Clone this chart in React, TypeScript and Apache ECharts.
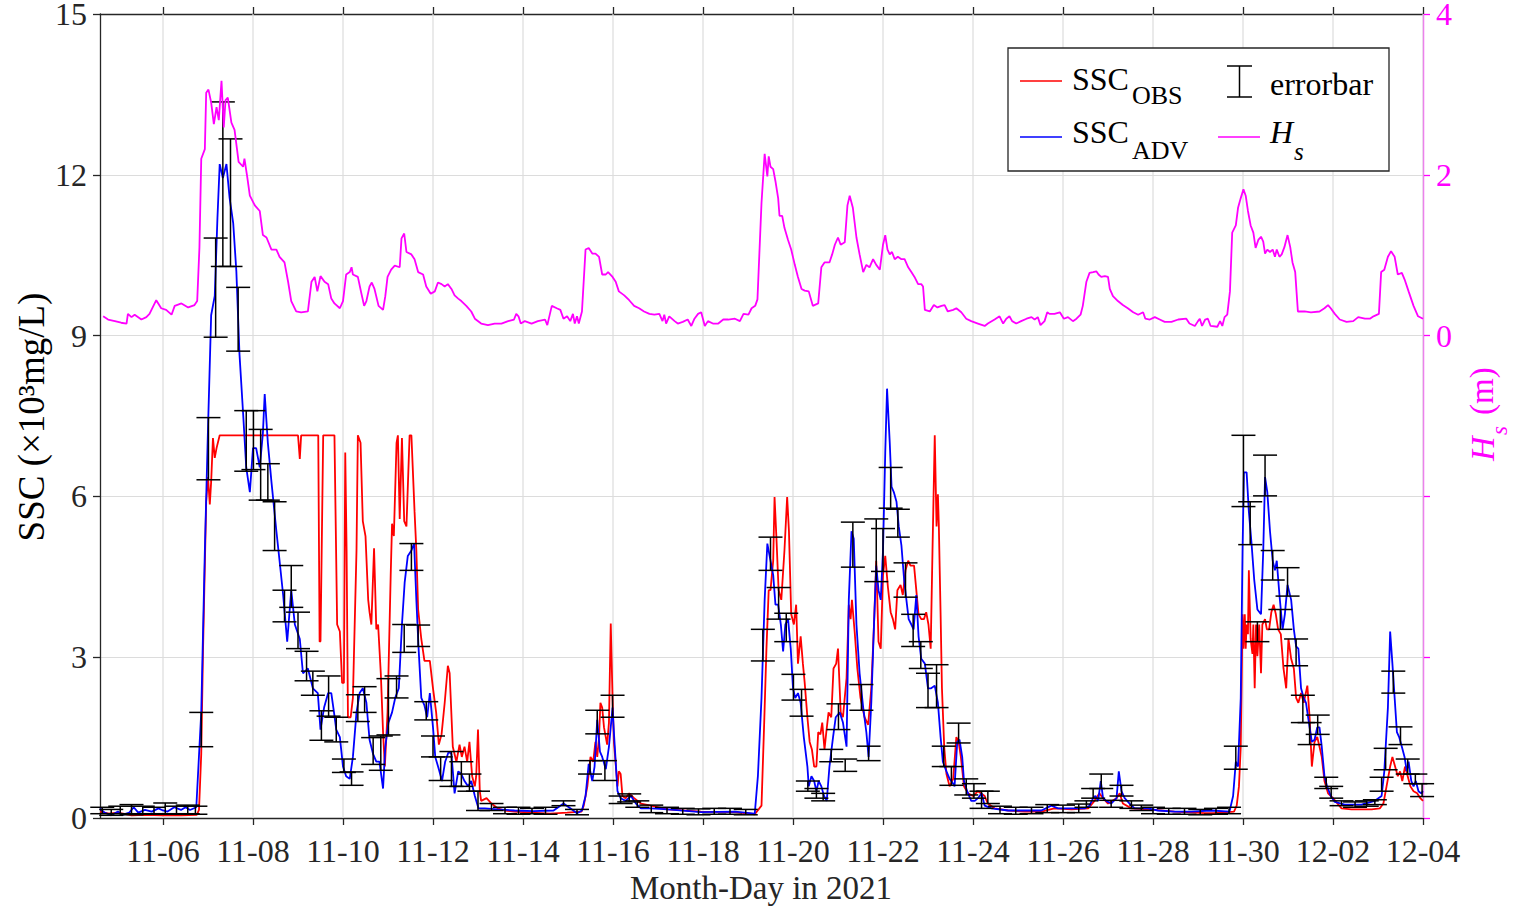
import React, { useEffect, useRef } from "react";
import * as echarts from "echarts";

// ---- data (day of November 2021, value) ----
const X_TICKS = [6, 8, 10, 12, 14, 16, 18, 20, 22, 24, 26, 28, 30, 32, 34];

const SSC_OBS: number[][] = [
  [4.6,0.12],[4.8,0.08],[5.0,0.1],[5.3,0.05],[5.6,0.06],[6.0,0.05],[6.4,0.05],[6.75,0.06],[6.8,0.15],[6.85,1.2],[6.89,3.16],[6.96,5.9],[7.0,6.36],[7.04,5.85],[7.07,6.27],[7.11,7.09],[7.15,6.72],[7.19,6.9],[7.26,7.14],[9.0,7.14],[9.04,6.7],[9.07,7.14],[9.45,7.14],[9.48,3.29],[9.5,3.3],[9.56,7.14],[9.81,7.14],[9.87,3.61],[9.93,3.48],[9.98,2.52],[10.02,2.52],[10.05,6.82],[10.08,4.99],[10.11,1.88],[10.17,1.88],[10.22,2.24],[10.3,4.99],[10.33,7.14],[10.39,7.0],[10.44,5.54],[10.5,5.26],[10.56,4.07],[10.59,3.84],[10.63,3.61],[10.69,5.03],[10.74,3.52],[10.78,3.61],[10.84,2.7],[10.89,1.6],[10.93,0.96],[10.99,1.97],[11.06,4.53],[11.09,5.49],[11.13,5.26],[11.19,7.0],[11.22,7.14],[11.26,5.58],[11.31,7.09],[11.36,5.54],[11.41,5.44],[11.48,7.14],[11.52,7.14],[11.59,5.72],[11.63,4.99],[11.67,3.89],[11.74,3.34],[11.81,2.93],[11.93,2.93],[12.0,2.42],[12.07,1.97],[12.13,1.37],[12.19,1.56],[12.26,2.15],[12.33,2.84],[12.37,2.7],[12.44,1.33],[12.52,1.05],[12.59,1.37],[12.64,1.14],[12.7,1.33],[12.76,1.05],[12.81,1.42],[12.87,0.78],[12.93,0.59],[12.96,0.78],[13.0,1.65],[13.04,0.5],[13.07,0.32],[13.19,0.37],[13.3,0.27],[13.44,0.18],[13.59,0.14],[13.81,0.12],[14.2,0.1],[14.6,0.08],[14.98,0.1],[15.3,0.12],[15.35,0.23],[15.43,0.59],[15.5,1.14],[15.56,1.05],[15.61,1.42],[15.65,1.14],[15.69,1.51],[15.72,2.15],[15.76,2.06],[15.8,1.69],[15.87,1.37],[15.91,1.78],[15.95,3.63],[15.99,2.24],[16.02,1.42],[16.1,0.59],[16.13,0.87],[16.17,0.82],[16.21,0.41],[16.28,0.37],[16.36,0.46],[16.47,0.37],[16.62,0.27],[16.84,0.23],[17.22,0.16],[17.96,0.12],[18.71,0.11],[19.15,0.07],[19.3,0.23],[19.36,1.78],[19.41,3.16],[19.46,4.25],[19.5,4.25],[19.56,4.8],[19.59,5.99],[19.63,5.26],[19.68,4.25],[19.74,4.07],[19.81,4.99],[19.87,5.99],[19.91,5.35],[19.96,3.8],[20.02,3.61],[20.07,3.98],[20.11,2.88],[20.17,3.39],[20.22,2.88],[20.26,2.52],[20.32,1.88],[20.37,1.42],[20.42,1.28],[20.47,0.96],[20.52,0.96],[20.56,1.6],[20.61,1.56],[20.65,1.78],[20.7,1.28],[20.74,1.6],[20.79,1.97],[20.85,1.88],[20.9,2.79],[20.96,2.88],[21.0,3.16],[21.06,1.97],[21.11,1.88],[21.19,2.61],[21.24,3.98],[21.28,3.71],[21.31,4.07],[21.37,3.48],[21.43,2.79],[21.5,2.24],[21.59,1.88],[21.67,1.74],[21.74,2.42],[21.8,3.61],[21.85,4.8],[21.9,3.29],[21.95,3.16],[22.0,4.53],[22.05,4.89],[22.11,4.3],[22.17,3.84],[22.22,3.71],[22.27,3.52],[22.32,4.25],[22.39,4.35],[22.44,4.16],[22.5,4.62],[22.56,4.8],[22.61,4.71],[22.69,4.71],[22.74,4.25],[22.79,3.8],[22.85,3.71],[22.91,3.71],[22.96,3.84],[23.01,3.61],[23.06,3.16],[23.1,4.99],[23.15,7.14],[23.19,5.44],[23.22,6.04],[23.24,5.49],[23.28,3.8],[23.31,2.42],[23.36,1.33],[23.41,0.82],[23.48,0.59],[23.56,0.73],[23.63,1.51],[23.68,1.42],[23.73,1.14],[23.8,0.59],[23.89,0.46],[24.0,0.41],[24.11,0.5],[24.26,0.41],[24.33,0.27],[24.48,0.18],[24.78,0.14],[25.15,0.12],[25.52,0.12],[25.81,0.18],[26.19,0.16],[26.56,0.18],[26.7,0.32],[26.81,0.46],[26.89,0.37],[27.0,0.27],[27.19,0.37],[27.26,0.46],[27.33,0.27],[27.52,0.18],[27.89,0.16],[28.48,0.12],[29.15,0.09],[29.35,0.09],[29.8,0.12],[29.86,0.23],[29.91,0.59],[29.95,1.33],[29.99,3.8],[30.01,3.16],[30.04,3.8],[30.06,3.16],[30.08,3.61],[30.11,3.43],[30.13,4.62],[30.17,3.34],[30.21,3.06],[30.23,3.61],[30.26,2.42],[30.29,3.61],[30.32,3.02],[30.36,3.61],[30.4,2.7],[30.43,3.61],[30.49,3.71],[30.53,3.52],[30.58,3.52],[30.63,3.84],[30.68,3.98],[30.73,3.8],[30.78,3.52],[30.84,3.43],[30.9,2.79],[30.96,2.42],[31.01,3.34],[31.07,2.97],[31.13,2.79],[31.18,2.24],[31.23,2.15],[31.29,2.33],[31.35,2.15],[31.43,2.47],[31.48,1.88],[31.53,0.96],[31.59,1.42],[31.65,1.51],[31.7,1.33],[31.75,1.14],[31.81,0.69],[31.89,0.46],[32.0,0.37],[32.19,0.18],[32.41,0.16],[32.63,0.16],[32.86,0.16],[33.04,0.18],[33.12,0.27],[33.19,0.59],[33.27,0.96],[33.32,1.14],[33.38,0.96],[33.44,0.78],[33.49,0.87],[33.54,0.69],[33.6,0.96],[33.66,0.78],[33.72,0.59],[33.79,0.5],[33.87,0.46],[33.94,0.37],[34.0,0.32]
];

const SSC_ADV: number[][] = [
  [4.6,0.18],[4.7,0.1],[4.85,0.05],[5.0,0.12],[5.1,0.06],[5.25,0.1],[5.35,0.2],[5.45,0.1],[5.6,0.15],[5.75,0.12],[5.9,0.18],[6.0,0.14],[6.1,0.12],[6.25,0.2],[6.4,0.15],[6.5,0.2],[6.6,0.15],[6.74,0.2],[6.85,1.97],[6.93,4.99],[7.0,7.27],[7.07,9.38],[7.15,9.74],[7.21,11.2],[7.26,12.2],[7.33,11.94],[7.41,12.2],[7.48,11.57],[7.56,11.1],[7.63,10.2],[7.7,8.65],[7.78,7.55],[7.85,6.54],[7.93,6.08],[8.0,6.9],[8.07,6.9],[8.15,6.54],[8.22,7.18],[8.26,7.91],[8.33,7.0],[8.41,6.27],[8.52,5.35],[8.59,4.8],[8.67,4.16],[8.76,3.29],[8.85,4.25],[8.93,3.61],[9.04,3.34],[9.11,2.7],[9.22,2.79],[9.33,2.42],[9.44,2.33],[9.5,1.65],[9.58,2.06],[9.67,2.33],[9.74,2.33],[9.8,1.97],[9.85,1.65],[9.93,1.51],[10.0,0.96],[10.07,0.78],[10.15,0.73],[10.22,1.14],[10.3,1.97],[10.37,2.33],[10.44,2.42],[10.52,2.15],[10.59,1.46],[10.67,1.19],[10.74,1.05],[10.81,1.05],[10.89,0.55],[10.94,1.33],[11.01,1.78],[11.09,1.97],[11.16,2.24],[11.24,2.42],[11.31,3.61],[11.37,4.39],[11.44,4.89],[11.52,4.99],[11.58,5.12],[11.63,4.07],[11.68,3.16],[11.74,2.24],[11.81,2.1],[11.87,1.88],[11.93,2.33],[12.0,1.69],[12.05,1.14],[12.13,0.91],[12.2,0.69],[12.27,1.05],[12.35,1.24],[12.41,1.19],[12.48,0.46],[12.56,0.87],[12.63,0.82],[12.7,0.69],[12.78,0.59],[12.85,0.69],[12.93,0.41],[13.01,0.18],[13.15,0.18],[13.44,0.16],[13.81,0.14],[14.23,0.13],[14.68,0.14],[14.83,0.23],[14.9,0.27],[15.05,0.18],[15.2,0.09],[15.31,0.14],[15.39,0.41],[15.46,1.01],[15.54,0.69],[15.59,0.96],[15.65,1.83],[15.71,1.24],[15.76,1.14],[15.84,0.91],[15.91,1.33],[15.99,2.06],[16.02,1.6],[16.1,0.5],[16.17,0.37],[16.28,0.32],[16.4,0.41],[16.51,0.27],[16.62,0.18],[16.84,0.18],[17.22,0.16],[17.96,0.11],[18.71,0.12],[19.15,0.08],[19.22,0.78],[19.3,2.24],[19.37,4.07],[19.43,5.12],[19.48,4.89],[19.56,4.53],[19.61,3.98],[19.67,3.98],[19.73,3.61],[19.78,3.11],[19.83,3.61],[19.89,3.71],[19.95,3.16],[20.0,2.42],[20.05,2.24],[20.11,2.33],[20.17,2.15],[20.24,1.51],[20.32,0.96],[20.35,0.59],[20.41,0.78],[20.47,0.69],[20.52,0.5],[20.57,0.69],[20.63,0.59],[20.69,0.41],[20.75,0.32],[20.81,0.96],[20.89,1.51],[20.95,1.88],[21.04,1.97],[21.11,1.78],[21.19,1.33],[21.24,4.07],[21.3,5.35],[21.35,5.21],[21.41,3.61],[21.48,2.7],[21.56,2.06],[21.63,1.6],[21.68,1.14],[21.74,2.15],[21.8,3.61],[21.85,4.71],[21.9,4.25],[21.95,4.07],[22.0,4.99],[22.05,6.82],[22.09,8.01],[22.15,7.0],[22.19,6.18],[22.24,6.08],[22.3,5.9],[22.35,5.44],[22.41,5.08],[22.47,4.44],[22.52,4.07],[22.57,3.71],[22.63,3.61],[22.68,3.52],[22.74,4.16],[22.79,3.39],[22.85,2.97],[22.93,2.88],[23.0,2.42],[23.07,2.42],[23.15,2.47],[23.22,2.15],[23.28,1.51],[23.33,1.05],[23.41,0.87],[23.48,0.73],[23.56,0.64],[23.59,0.59],[23.65,1.42],[23.7,1.46],[23.76,1.14],[23.8,0.69],[23.87,0.5],[23.96,0.32],[24.04,0.32],[24.11,0.37],[24.19,0.46],[24.26,0.23],[24.41,0.18],[24.78,0.14],[25.15,0.14],[25.52,0.14],[25.74,0.23],[25.89,0.18],[26.19,0.18],[26.48,0.18],[26.59,0.23],[26.67,0.37],[26.72,0.41],[26.78,0.32],[26.84,0.69],[26.89,0.37],[26.96,0.32],[27.07,0.27],[27.19,0.37],[27.24,0.87],[27.3,0.5],[27.37,0.37],[27.48,0.27],[27.59,0.18],[27.89,0.18],[28.11,0.14],[28.48,0.12],[28.85,0.12],[29.3,0.14],[29.7,0.12],[29.78,0.41],[29.84,1.05],[29.89,0.96],[29.95,2.24],[29.99,4.99],[30.02,6.45],[30.08,6.45],[30.13,5.72],[30.19,5.12],[30.25,4.44],[30.32,3.89],[30.4,3.8],[30.45,4.99],[30.49,6.36],[30.54,6.08],[30.6,5.35],[30.66,4.8],[30.71,4.62],[30.75,4.8],[30.81,4.16],[30.88,3.52],[30.93,3.8],[30.99,4.35],[31.07,4.07],[31.13,3.52],[31.18,3.2],[31.23,3.16],[31.29,2.42],[31.35,2.24],[31.4,2.15],[31.48,1.69],[31.53,1.42],[31.59,1.46],[31.65,1.69],[31.7,1.69],[31.75,1.33],[31.81,0.78],[31.87,0.59],[31.95,0.41],[32.04,0.3],[32.26,0.25],[32.63,0.25],[32.93,0.32],[33.08,0.41],[33.14,0.87],[33.22,2.06],[33.27,3.48],[33.32,2.88],[33.37,2.24],[33.42,1.6],[33.47,1.51],[33.53,1.33],[33.59,1.14],[33.64,0.87],[33.68,1.05],[33.74,0.69],[33.79,0.59],[33.84,0.69],[33.9,0.5],[33.96,0.46],[34.0,0.5]
];

const HS: number[][] = [
  [4.67,0.24],[4.78,0.2],[4.93,0.18],[5.07,0.16],[5.19,0.15],[5.22,0.27],[5.3,0.23],[5.37,0.26],[5.52,0.2],[5.63,0.23],[5.7,0.27],[5.85,0.44],[5.96,0.34],[6.07,0.32],[6.19,0.26],[6.26,0.37],[6.41,0.4],[6.56,0.35],[6.7,0.38],[6.76,0.43],[6.81,1.1],[6.85,2.2],[6.93,2.32],[6.96,3.02],[7.01,3.06],[7.07,2.9],[7.13,2.63],[7.19,2.84],[7.24,2.68],[7.3,3.17],[7.35,2.59],[7.39,2.93],[7.44,2.96],[7.52,2.65],[7.59,2.56],[7.68,2.16],[7.78,2.1],[7.81,2.2],[7.87,1.98],[7.93,1.74],[8.04,1.62],[8.15,1.55],[8.22,1.25],[8.3,1.22],[8.41,1.07],[8.52,1.07],[8.59,0.98],[8.7,0.91],[8.78,0.67],[8.85,0.43],[8.96,0.3],[9.07,0.29],[9.22,0.3],[9.3,0.67],[9.37,0.73],[9.43,0.55],[9.5,0.74],[9.59,0.67],[9.67,0.64],[9.74,0.46],[9.81,0.4],[9.93,0.34],[10.0,0.43],[10.07,0.76],[10.15,0.79],[10.19,0.85],[10.22,0.76],[10.33,0.73],[10.41,0.52],[10.47,0.37],[10.52,0.43],[10.59,0.61],[10.64,0.66],[10.7,0.58],[10.79,0.37],[10.89,0.32],[10.94,0.49],[10.99,0.73],[11.07,0.82],[11.15,0.87],[11.26,0.85],[11.3,1.21],[11.36,1.27],[11.41,1.04],[11.52,1.01],[11.59,0.95],[11.67,0.79],[11.78,0.76],[11.85,0.61],[11.95,0.52],[12.04,0.55],[12.11,0.66],[12.19,0.64],[12.26,0.61],[12.33,0.64],[12.41,0.58],[12.48,0.5],[12.56,0.46],[12.63,0.43],[12.74,0.37],[12.85,0.3],[12.93,0.21],[13.07,0.15],[13.22,0.13],[13.37,0.15],[13.52,0.15],[13.67,0.18],[13.8,0.2],[13.85,0.27],[13.9,0.24],[13.95,0.15],[14.04,0.18],[14.19,0.15],[14.33,0.18],[14.49,0.2],[14.54,0.13],[14.64,0.37],[14.75,0.34],[14.83,0.32],[14.9,0.21],[14.98,0.24],[15.05,0.18],[15.11,0.27],[15.15,0.15],[15.2,0.24],[15.24,0.15],[15.31,0.3],[15.39,1.07],[15.46,1.09],[15.54,1.02],[15.61,1.02],[15.69,0.98],[15.76,0.76],[15.84,0.76],[15.89,0.79],[15.99,0.73],[16.06,0.67],[16.13,0.55],[16.25,0.5],[16.36,0.44],[16.47,0.37],[16.58,0.34],[16.69,0.3],[16.81,0.27],[16.92,0.26],[17.03,0.27],[17.1,0.18],[17.14,0.26],[17.18,0.15],[17.25,0.24],[17.37,0.18],[17.44,0.15],[17.55,0.17],[17.66,0.2],[17.74,0.12],[17.81,0.21],[17.89,0.27],[17.96,0.29],[18.04,0.12],[18.11,0.18],[18.22,0.15],[18.34,0.15],[18.45,0.2],[18.56,0.2],[18.71,0.21],[18.82,0.18],[18.9,0.27],[19.01,0.26],[19.08,0.34],[19.16,0.37],[19.21,0.45],[19.24,0.85],[19.3,1.65],[19.37,2.26],[19.43,1.98],[19.46,2.23],[19.5,2.1],[19.56,2.07],[19.61,1.92],[19.67,1.71],[19.7,1.49],[19.76,1.49],[19.81,1.34],[19.89,1.19],[19.96,1.07],[20.04,0.88],[20.11,0.73],[20.19,0.58],[20.26,0.56],[20.35,0.55],[20.44,0.37],[20.56,0.4],[20.63,0.85],[20.7,0.91],[20.81,0.91],[20.87,1.01],[20.93,1.13],[21.0,1.22],[21.06,1.13],[21.15,1.16],[21.21,1.62],[21.26,1.74],[21.33,1.59],[21.41,1.22],[21.48,1.01],[21.56,0.79],[21.63,0.88],[21.7,0.85],[21.78,0.95],[21.85,0.88],[21.93,0.82],[22.0,1.13],[22.05,1.25],[22.1,1.07],[22.15,1.01],[22.2,1.04],[22.26,0.95],[22.33,0.98],[22.41,0.95],[22.48,0.95],[22.56,0.85],[22.63,0.79],[22.7,0.73],[22.78,0.64],[22.85,0.64],[22.89,0.61],[22.93,0.32],[23.04,0.3],[23.13,0.38],[23.21,0.35],[23.3,0.37],[23.37,0.38],[23.44,0.3],[23.56,0.32],[23.63,0.34],[23.74,0.29],[23.85,0.21],[23.96,0.18],[24.11,0.15],[24.26,0.12],[24.33,0.15],[24.48,0.2],[24.59,0.24],[24.67,0.15],[24.74,0.21],[24.81,0.24],[24.87,0.18],[24.96,0.15],[25.07,0.18],[25.19,0.21],[25.3,0.23],[25.37,0.2],[25.44,0.23],[25.5,0.13],[25.59,0.18],[25.65,0.29],[25.7,0.27],[25.81,0.27],[25.93,0.29],[26.02,0.21],[26.11,0.23],[26.22,0.18],[26.3,0.21],[26.39,0.26],[26.44,0.37],[26.52,0.67],[26.59,0.78],[26.67,0.79],[26.74,0.8],[26.79,0.76],[26.85,0.73],[26.93,0.74],[27.0,0.73],[27.04,0.58],[27.11,0.49],[27.22,0.43],[27.33,0.38],[27.44,0.34],[27.56,0.29],[27.67,0.26],[27.78,0.29],[27.83,0.21],[27.93,0.2],[28.04,0.23],[28.15,0.2],[28.26,0.17],[28.41,0.17],[28.56,0.2],[28.74,0.21],[28.81,0.15],[28.93,0.12],[29.0,0.18],[29.04,0.21],[29.09,0.12],[29.16,0.2],[29.22,0.21],[29.28,0.12],[29.43,0.11],[29.49,0.18],[29.54,0.12],[29.59,0.23],[29.65,0.26],[29.71,0.55],[29.76,1.28],[29.84,1.37],[29.89,1.59],[29.95,1.71],[30.01,1.82],[30.06,1.74],[30.11,1.55],[30.17,1.37],[30.23,1.28],[30.28,1.09],[30.34,1.19],[30.4,1.23],[30.45,1.17],[30.49,1.02],[30.54,1.07],[30.6,1.04],[30.66,1.07],[30.71,0.98],[30.75,1.07],[30.81,0.98],[30.86,1.01],[30.92,1.1],[30.99,1.25],[31.05,1.1],[31.1,0.91],[31.16,0.79],[31.22,0.3],[31.37,0.3],[31.51,0.29],[31.7,0.3],[31.81,0.34],[31.89,0.38],[31.95,0.34],[32.04,0.27],[32.15,0.2],[32.3,0.17],[32.45,0.18],[32.56,0.23],[32.71,0.21],[32.82,0.21],[32.9,0.24],[33.02,0.27],[33.07,0.79],[33.14,0.82],[33.22,0.98],[33.29,1.05],[33.37,0.98],[33.44,0.76],[33.53,0.78],[33.59,0.7],[33.68,0.55],[33.79,0.37],[33.89,0.24],[34.0,0.21]
];

// errorbars: [day, low, high]
const ERRORBARS: number[][] = [
  [4.65,0.08,0.2],[4.85,0.05,0.16],[5.05,0.08,0.22],[5.3,0.06,0.25],[5.55,0.08,0.22],[5.8,0.07,0.2],[6.05,0.08,0.28],[6.3,0.07,0.22],[6.55,0.08,0.24],[6.72,0.07,0.22],
  [6.85,1.33,1.97],[7.01,6.31,7.47],[7.17,8.97,10.82],[7.33,10.29,13.36],[7.5,10.29,12.67],[7.67,8.71,9.9],[7.85,6.47,7.6],[8.01,6.5,7.6],[8.17,5.93,7.25],[8.33,5.93,6.61],[8.48,4.99,5.9],[8.7,3.66,4.25],[8.85,3.93,4.71],[9.0,3.16,3.84],[9.19,2.56,3.11],[9.33,2.29,2.74],[9.52,1.45,2.0],[9.68,1.9,2.65],[9.85,1.42,1.88],[10.02,0.85,1.1],[10.19,0.61,0.86],[10.33,1.8,2.3],[10.48,1.97,2.45],[10.67,1.0,1.5],[10.84,0.89,1.53],[11.01,1.55,2.6],[11.19,2.24,2.65],[11.36,3.09,3.61],[11.52,4.62,5.12],[11.67,3.2,3.6],[11.85,1.83,2.17],[12.0,1.14,1.53],[12.17,0.7,1.14],[12.41,0.59,1.24],[12.63,0.59,1.05],[12.81,0.5,0.82],[13.0,0.14,0.5],[13.3,0.14,0.27],
  [13.6,0.08,0.2],[13.9,0.07,0.2],[14.2,0.08,0.18],[14.5,0.07,0.2],[14.9,0.23,0.32],[15.2,0.06,0.16],
  [15.49,0.82,1.07],[15.65,1.57,2.01],[15.82,0.7,1.07],[15.99,1.88,2.29],[16.17,0.27,0.41],[16.36,0.3,0.45],[16.54,0.2,0.32],
  [16.85,0.1,0.24],[17.2,0.08,0.2],[17.55,0.07,0.18],[17.9,0.06,0.17],[18.25,0.07,0.18],[18.6,0.07,0.18],[18.95,0.06,0.16],
  [19.33,2.93,3.52],[19.5,4.62,5.24],[19.68,3.71,4.3],[19.85,3.29,3.82],[20.01,2.2,2.68],[20.19,1.9,2.4],[20.33,0.5,0.69],[20.52,0.37,0.55],[20.67,0.32,0.46],[20.85,1.05,1.28],[21.01,1.65,2.13],[21.16,0.87,1.1],[21.33,4.68,5.52],[21.52,2.01,2.49],[21.68,1.07,1.34],[21.85,4.41,5.58],[22.0,4.6,5.4],[22.17,5.78,6.54],[22.33,5.24,5.76],[22.5,4.12,4.76],[22.67,3.2,3.8],[22.84,2.79,3.29],[23.0,2.06,2.7],[23.19,2.06,2.86],[23.35,0.96,1.34],[23.52,0.61,0.96],[23.68,1.4,1.77],[23.85,0.43,0.73],[24.02,0.37,0.64],[24.19,0.18,0.5],[24.33,0.27,0.5],
  [24.6,0.08,0.22],[24.95,0.07,0.2],[25.3,0.08,0.2],[25.65,0.1,0.25],[26.0,0.1,0.24],[26.35,0.1,0.26],
  [26.52,0.2,0.32],[26.67,0.37,0.55],[26.85,0.55,0.82],[27.07,0.2,0.33],[27.3,0.41,0.61],[27.52,0.18,0.32],[27.74,0.14,0.24],
  [28.0,0.08,0.2],[28.35,0.07,0.18],[28.7,0.07,0.18],[29.05,0.06,0.16],[29.4,0.07,0.18],[29.69,0.08,0.2],
  [29.84,0.91,1.34],[30.01,5.81,7.14],[30.16,5.1,5.9],[30.32,3.29,3.66],[30.49,6.01,6.77],[30.66,4.44,4.99],[30.83,3.52,3.89],[30.99,4.14,4.67],[31.18,2.84,3.34],[31.33,1.78,2.29],[31.48,1.37,1.78],[31.66,1.56,1.92],[31.85,0.55,0.76],[31.96,0.37,0.59],[32.19,0.23,0.32],[32.49,0.2,0.3],[32.75,0.22,0.32],[32.93,0.25,0.34],
  [33.08,0.5,0.76],[33.17,0.9,1.3],[33.34,2.33,2.74],[33.5,1.37,1.7],[33.66,0.82,1.1],[33.83,0.64,0.82],[33.98,0.4,0.64]
];

const FONT = "'Liberation Serif', 'Times New Roman', serif";
const AX = "#262626";
const MAG = "#ff00ff";
const GRID = "#dcdcdc";

const fmtDay = (v: number) => {
  const r = Math.round(v);
  return r <= 30 ? `11-${String(r).padStart(2, "0")}` : `12-${String(r - 30).padStart(2, "0")}`;
};

const txt = (x: number, y: number, text: string, size: number, extra: any = {}) => ({
  type: "text",
  x,
  y,
  z: 100,
  style: { text, fontSize: size, fontFamily: FONT, fill: "#000", align: "left", verticalAlign: "middle", ...extra },
});

const ln = (x1: number, y1: number, x2: number, y2: number, color: string, w = 1.6) => ({
  type: "line",
  z: 100,
  shape: { x1, y1, x2, y2 },
  style: { stroke: color, lineWidth: w },
});

export default function App() {
  const ref = useRef<HTMLDivElement>(null);
  useEffect(() => {
    if (!ref.current) return;
    const chart = echarts.init(ref.current, undefined, { renderer: "svg" });
    const xCommon = {
      type: "value",
      min: 4.6,
      max: 34,
      axisLine: { show: true, onZero: false, lineStyle: { color: AX, width: 1.3 } },
      axisTick: { show: true, customValues: X_TICKS, length: 7, inside: false, lineStyle: { color: AX, width: 1.3 } },
      splitLine: { show: false },
    };
    const option: any = {
      animation: false,
      backgroundColor: "#fff",
      grid: { left: 100, right: 91, top: 14, bottom: 93, containLabel: false, outerBoundsMode: "none" },
      xAxis: [
        {
          ...xCommon,
          position: "bottom",
          axisLabel: { show: true, customValues: X_TICKS, formatter: fmtDay, fontFamily: FONT, fontSize: 32, color: AX, margin: 17 },
        },
        {
          ...xCommon,
          position: "top",
          axisLabel: { show: false },
        },
      ],
      yAxis: [
        {
          type: "value",
          min: 0,
          max: 15,
          interval: 3,
          position: "left",
          axisLine: { show: true, onZero: false, lineStyle: { color: AX, width: 1.3 } },
          axisTick: { show: true, length: 7, lineStyle: { color: AX, width: 1.3 } },
          axisLabel: { fontFamily: FONT, fontSize: 32, lineHeight: 22, color: AX, margin: 13 },
          splitLine: { show: true, lineStyle: { color: GRID, width: 1.2 } },
        },
        {
          type: "value",
          min: -6,
          max: 4,
          interval: 2,
          position: "right",
          axisLine: { show: true, onZero: false, lineStyle: { color: MAG, width: 1.3 } },
          axisTick: { show: true, length: 7, lineStyle: { color: MAG, width: 1.3 } },
          axisLabel: { fontFamily: FONT, fontSize: 32, lineHeight: 22, color: MAG, margin: 13, formatter: (v: number) => (v >= 0 ? String(v) : "") },
          splitLine: { show: false },
        },
      ],
      series: [
        {
          name: "xgrid",
          type: "custom",
          xAxisIndex: 0,
          yAxisIndex: 0,
          data: X_TICKS.map((v) => [v]),
          encode: { x: 0 },
          z: 1,
          silent: true,
          renderItem: (_p: any, api: any) => {
            const x = api.value(0);
            const a = api.coord([x, 0]);
            const b = api.coord([x, 15]);
            return { type: "line", shape: { x1: a[0], y1: a[1], x2: b[0], y2: b[1] }, style: { stroke: GRID, lineWidth: 1.2 } };
          },
        },
        {
          name: "SSC_OBS",
          type: "line",
          data: SSC_OBS,
          xAxisIndex: 0,
          yAxisIndex: 0,
          showSymbol: false,
          symbol: "none",
          lineStyle: { color: "#ff0000", width: 1.8 },
          itemStyle: { color: "#ff0000" },
          z: 2,
          silent: true,
        },
        {
          name: "SSC_ADV",
          type: "line",
          data: SSC_ADV,
          xAxisIndex: 0,
          yAxisIndex: 0,
          showSymbol: false,
          symbol: "none",
          lineStyle: { color: "#0000ff", width: 1.8 },
          itemStyle: { color: "#0000ff" },
          z: 3,
          silent: true,
        },
        {
          name: "errorbar",
          type: "custom",
          xAxisIndex: 0,
          yAxisIndex: 0,
          data: ERRORBARS,
          encode: { x: 0, y: [1, 2] },
          z: 4,
          silent: true,
          renderItem: (_p: any, api: any) => {
            const x = api.value(0);
            const lo = api.coord([x, api.value(1)]);
            const hi = api.coord([x, api.value(2)]);
            const hw = 12;
            const st = { stroke: "#000", lineWidth: 1.5 };
            return {
              type: "group",
              children: [
                { type: "line", shape: { x1: lo[0], y1: lo[1], x2: hi[0], y2: hi[1] }, style: st },
                { type: "line", shape: { x1: lo[0] - hw, y1: lo[1], x2: lo[0] + hw, y2: lo[1] }, style: st },
                { type: "line", shape: { x1: hi[0] - hw, y1: hi[1], x2: hi[0] + hw, y2: hi[1] }, style: st },
              ],
            };
          },
        },
        {
          name: "Hs",
          type: "line",
          data: HS,
          xAxisIndex: 0,
          yAxisIndex: 1,
          showSymbol: false,
          symbol: "none",
          lineStyle: { color: MAG, width: 1.8 },
          itemStyle: { color: MAG },
          z: 5,
          silent: true,
        },
      ],
      graphic: [
        // axis titles
        txt(761, 888, "Month-Day in 2021", 33, { align: "center", fill: AX }),
        {
          type: "group",
          x: 31,
          y: 417,
          rotation: Math.PI / 2,
          z: 100,
          children: [txt(0, 0, "SSC (×10³mg/L)", 37, { align: "center", fill: "#000" })],
        },
        {
          type: "group",
          x: 1482,
          y: 414,
          rotation: Math.PI / 2,
          z: 100,
          children: [
            txt(-47, 0, "H", 34, { fill: MAG, fontStyle: "italic" }),
            txt(-21, 17, "s", 23, { fill: MAG, fontStyle: "italic" }),
            txt(-1, 0, "(m)", 33, { fill: MAG }),
          ],
        },
        // legend
        {
          type: "rect",
          z: 99,
          shape: { x: 1008, y: 48, width: 381, height: 123 },
          style: { fill: "#fff", stroke: AX, lineWidth: 1.3 },
        },
        ln(1020, 81, 1062, 81, "#ff0000"),
        txt(1072, 79, "SSC", 32),
        txt(1132, 95, "OBS", 26),
        ln(1020, 137, 1062, 137, "#0000ff"),
        txt(1072, 132, "SSC", 32),
        txt(1132, 150, "ADV", 26),
        ln(1239.5, 66, 1239.5, 97, "#000", 1.5),
        ln(1227, 66, 1252, 66, "#000", 1.5),
        ln(1227, 97, 1252, 97, "#000", 1.5),
        txt(1270, 84, "errorbar", 32),
        ln(1218, 137, 1260, 137, MAG),
        txt(1270, 132, "H", 32, { fontStyle: "italic" }),
        txt(1294, 151, "s", 25, { fontStyle: "italic" }),
      ],
    };
    chart.setOption(option);
    return () => chart.dispose();
  }, []);
  return (
    <div
      ref={ref}
      style={{ position: "fixed", left: 0, top: 0, width: 1514, height: 911, background: "#fff" }}
    />
  );
}
